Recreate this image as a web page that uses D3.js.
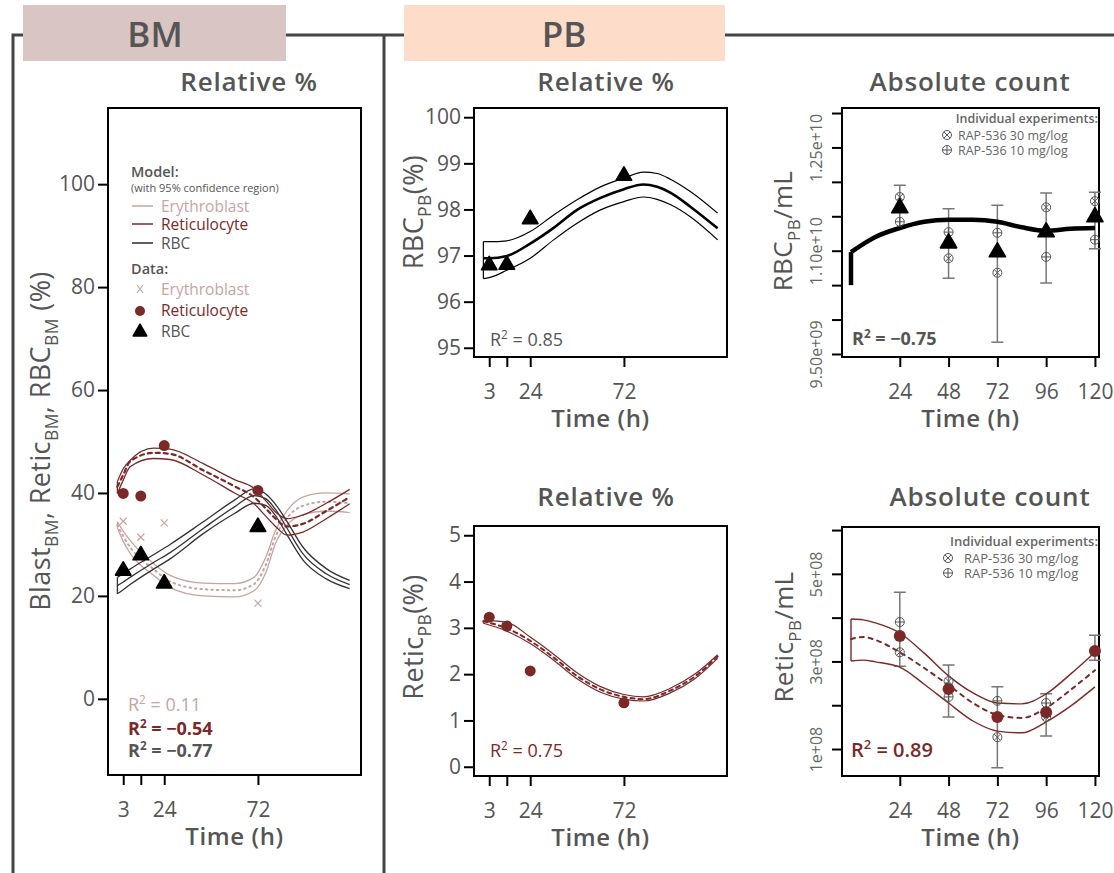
<!DOCTYPE html>
<html><head><meta charset="utf-8">
<script src="https://cdn.jsdelivr.net/npm/d3@7"></script>
<style>
body{margin:0;background:#fff}
svg{font-family:"Open Sans",sans-serif}
</style></head><body>
<svg width="1114" height="873"></svg>
<script>
// ---------- data ----------
// BM, relative %
var bmTimes   = [3, 12, 24, 72];
var bmEryData = [34.5, 31.4, 34.2, 18.6];
var bmRetData = [39.9, 39.4, 49.2, 40.5];
var bmRbcData = [24.9, 27.9, 22.4, 33.4];

var bmModelT  = [0, 3, 6.5, 18.5, 27, 44, 60, 70, 76, 81, 87, 95, 107, 119];
var bmEryMid  = [33.8, 31.6, 29.5, 25.2, 22.8, 21.3, 21.1, 22.3, 26.0, 31.5, 35.2, 37.5, 38.3, 38.0];
var bmEryHi   = [34.4, 32.6, 30.8, 26.3, 24.0, 22.5, 22.4, 23.6, 27.5, 32.7, 36.6, 39.2, 40.0, 39.8];
var bmEryLo   = [33.2, 30.6, 28.3, 24.0, 21.6, 20.0, 19.8, 21.0, 24.5, 30.2, 33.8, 35.8, 36.5, 36.2];
var bmRetMid  = [41.2, 43.5, 46.1, 47.8, 47.6, 44.4, 41.3, 39.2, 37.0, 35.0, 33.5, 34.0, 36.5, 39.2];
var bmRetHi   = [42.2, 44.7, 46.3, 48.7, 48.5, 45.7, 42.6, 40.9, 38.5, 36.3, 35.0, 35.7, 38.0, 40.7];
var bmRetLo   = [39.9, 42.5, 45.1, 46.7, 46.5, 43.5, 40.0, 37.9, 35.5, 33.5, 31.8, 32.4, 35.0, 37.9];
var bmRbcMid  = [22.0, 22.7, 23.6, 26.5, 28.4, 33.1, 37.3, 39.5, 38.9, 36.8, 33.1, 28.2, 24.3, 22.2];
var bmRbcHi   = [23.6, 24.3, 25.2, 28.0, 30.0, 34.4, 38.6, 40.8, 39.8, 37.8, 34.4, 29.5, 25.3, 23.0];
var bmRbcLo   = [20.4, 21.2, 22.2, 25.2, 27.2, 32.1, 36.0, 38.0, 37.6, 35.6, 31.8, 27.0, 23.3, 21.4];

// PB, relative %
var pbTimes    = [3, 12, 24, 72];
var pbRbcData  = [96.79, 96.80, 97.79, 98.73];
var pbRetData  = [3.23, 3.04, 2.07, 1.38];

var pbRbcT     = [0, 3, 12, 24, 36, 48, 60, 72, 82, 89, 96, 106, 120];
var pbRbcMid   = [96.94, 96.94, 96.99, 97.26, 97.60, 97.99, 98.25, 98.44, 98.54, 98.49, 98.36, 98.06, 97.59];
var pbRbcHi    = [97.30, 97.30, 97.32, 97.52, 97.88, 98.21, 98.49, 98.68, 98.81, 98.78, 98.65, 98.39, 97.92];
var pbRbcLo    = [96.50, 96.52, 96.68, 96.94, 97.34, 97.70, 97.99, 98.17, 98.27, 98.22, 98.10, 97.84, 97.34];

var pbRetT     = [0, 12, 24, 36, 48, 60, 72, 82, 96, 108, 120];
var pbRetMid   = [3.14, 2.99, 2.72, 2.36, 1.96, 1.67, 1.51, 1.46, 1.65, 1.94, 2.38];
var pbRetHi    = [3.16, 3.12, 2.80, 2.43, 2.03, 1.73, 1.56, 1.51, 1.70, 1.99, 2.42];
var pbRetLo    = [3.10, 2.93, 2.66, 2.30, 1.90, 1.61, 1.46, 1.42, 1.60, 1.89, 2.34];

// PB, absolute count
var absTimes      = [24, 48, 72, 96, 120];
var absRbcMean    = [1.162e10, 1.111e10, 1.098e10, 1.127e10, 1.149e10];
var absRbc30      = [1.178e10, 1.089e10, 1.068e10, 1.163e10, 1.172e10];
var absRbc10      = [1.142e10, 1.127e10, 1.126e10, 1.091e10, 1.116e10];
var absRbcErrHi   = [1.195e10, 1.161e10, 1.166e10, 1.184e10, 1.185e10];
var absRbcErrLo   = [1.133e10, 1.060e10, 0.967e10, 1.053e10, 1.103e10];
var absRbcStart   = 1.050e10;
var absRbcT       = [0, 12, 24, 36, 48, 60, 72, 84, 96, 108, 120];
var absRbcModel   = [1.098e10, 1.120e10, 1.133e10, 1.142e10, 1.145e10, 1.145e10, 1.142e10, 1.134e10, 1.129e10, 1.132e10, 1.133e10];

var absRetMean    = [3.58e8, 2.37e8, 1.73e8, 1.84e8, 3.24e8];
var absRet30      = [3.21e8, 2.55e8, 1.27e8, 1.73e8, null];
var absRet10      = [3.90e8, 2.19e8, 2.10e8, 2.05e8, null];
var absRetErrHi   = [4.58e8, 2.92e8, 2.42e8, 2.26e8, 3.60e8];
var absRetErrLo   = [2.89e8, 1.73e8, 0.57e8, 1.30e8, 3.03e8];
var absRetT       = [0, 6, 12, 24, 36, 48, 60, 72, 84, 96, 108, 120];
var absRetMid     = [3.51e8, 3.56e8, 3.49e8, 3.21e8, 2.85e8, 2.46e8, 2.05e8, 1.78e8, 1.71e8, 1.94e8, 2.35e8, 2.80e8];
var absRetHi      = [3.97e8, 3.95e8, 3.88e8, 3.65e8, 3.19e8, 2.67e8, 2.28e8, 2.05e8, 2.03e8, 2.26e8, 2.71e8, 3.21e8];
var absRetLo      = [3.01e8, 3.03e8, 2.99e8, 2.87e8, 2.48e8, 2.05e8, 1.64e8, 1.41e8, 1.37e8, 1.62e8, 1.98e8, 2.42e8];

// ticks
var relXTicks = [3, 12, 24, 72];
var relXTickLabels = ["3", "", "24", "72"];
var absXTicks = [24, 48, 72, 96, 120];
var bmYTicks = [0, 20, 40, 60, 80, 100];
var pbRbcYTicks = [95, 96, 97, 98, 99, 100];
var pbRetYTicks = [0, 1, 2, 3, 4, 5];
var absRbcYTicks = [9.5e9, 1.0e10, 1.05e10, 1.1e10, 1.15e10, 1.2e10, 1.25e10, 1.3e10];
var absRbcYLabels = ["9.50e+09", "", "", "1.10e+10", "", "", "1.25e+10", ""];
var absRetYTicks = [1e8, 2e8, 3e8, 4e8, 5e8, 6e8];
var absRetYLabels = ["1e+08", "", "3e+08", "", "5e+08", ""];

// ---------- drawing ----------
var cEry = "#c9a3a3", cRet = "#7b2828", cRbc = "#2a2a2a", cText = "#555";
var svg = d3.select("svg");

// frame and headers
svg.append("path")
	.attr("d", "M13,873V35H1114M384,35V873")
	.attr("fill", "none").attr("stroke", "#444").attr("stroke-width", 3);
svg.append("rect").attr("x", 23).attr("y", 5).attr("width", 263).attr("height", 56).attr("fill", "#d9c5c4");
svg.append("rect").attr("x", 404).attr("y", 5).attr("width", 321).attr("height", 56).attr("fill", "#fddcc9");
svg.append("text").attr("x", 155).attr("y", 47).attr("text-anchor", "middle")
	.style("font-size", "35px").style("font-weight", 600).attr("fill", cText).text("BM");
svg.append("text").attr("x", 564).attr("y", 47).attr("text-anchor", "middle")
	.style("font-size", "35px").style("font-weight", 600).attr("fill", cText).text("PB");

// text with sub/superscripts: parts = [[str, "sub"|"sup"|null], ...]
function rich(sel, parts, size) {
	var shift = 0;
	parts.forEach(function(p){
		var t = sel.append("tspan").text(p[0]);
		var want = p[1] == "sub" ? size * 0.3 : (p[1] == "sup" ? -size * 0.4 : 0);
		t.attr("dy", want - shift);
		shift = want;
		if (p[1]) t.style("font-size", (size * 0.65) + "px");
	});
	return sel;
}

function panel(o) {
	var g = svg.append("g");
	var x = d3.scaleLinear().domain(o.xDomain).range([o.box[0], o.box[2]]);
	var y = d3.scaleLinear().domain(o.yDomain).range([o.box[3], o.box[1]]);

	var xa = g.append("g").attr("transform", "translate(0," + o.box[3] + ")")
		.call(d3.axisBottom(x).tickValues(o.xTicks).tickSize(10).tickPadding(17)
			.tickFormat(function(d, i){ return o.xLabels ? o.xLabels[i] : d; }));
	var ya = g.append("g").attr("transform", "translate(" + o.box[0] + ",0)")
		.call(d3.axisLeft(y).tickValues(o.yTicks).tickSize(10).tickPadding(3)
			.tickFormat(function(d, i){ return o.yLabels ? o.yLabels[i] : d; }));
	[xa, ya].forEach(function(a){
		a.select(".domain").remove();
		a.selectAll("line").attr("stroke", "#000").attr("stroke-width", 2);
		a.selectAll("text").attr("fill", cText).style("font-family", "Open Sans")
			.style("font-size", "21px").style("font-weight", 500);
	});
	if (o.rotY) {
		ya.selectAll("text").attr("x", null).attr("dy", 0).attr("text-anchor", "middle")
			.attr("transform", "translate(-20,0) rotate(-90)").style("font-size", "16px")
			.style("font-weight", 400).attr("fill", "#666");
	}
	g.append("rect").attr("x", o.box[0]).attr("y", o.box[1])
		.attr("width", o.box[2] - o.box[0]).attr("height", o.box[3] - o.box[1])
		.attr("fill", "none").attr("stroke", "#000").attr("stroke-width", 2);

	// titles
	g.append("text").attr("x", o.titleX).attr("y", o.titleY).attr("text-anchor", "middle")
		.attr("fill", cText).style("font-size", "26px").style("font-weight", 600)
		.style("letter-spacing", "0.8px").text(o.title);
	g.append("text").attr("x", (o.box[0] + o.box[2]) / 2).attr("y", o.box[3] + 70)
		.attr("text-anchor", "middle").attr("fill", cText).style("font-size", "24px")
		.style("font-weight", 600).style("letter-spacing", "0.6px").text("Time (h)");
	rich(g.append("text").attr("text-anchor", "middle").attr("fill", cText)
		.attr("transform", "translate(" + o.yTitleX + "," + o.yTitleY + ") rotate(-90)")
		.style("font-size", o.yTitleSize + "px").style("font-weight", 500)
		.style("letter-spacing", "0.4px"), o.yTitle, o.yTitleSize);

	return {g: g, x: x, y: y};
}

function curve(p, ts, vs, color, w, dash) {
	var line = d3.line().x(function(d){ return p.x(d[0]); }).y(function(d){ return p.y(d[1]); })
		.curve(d3.curveMonotoneX);
	p.g.append("path").datum(d3.zip(ts, vs)).attr("d", line)
		.attr("fill", "none").attr("stroke", color).attr("stroke-width", w)
		.attr("stroke-dasharray", dash || null).attr("stroke-linecap", dash ? "round" : "butt");
}
function band(p, ts, hi, lo, color, w) {
	curve(p, ts, hi, color, w);
	curve(p, ts, lo, color, w);
	p.g.append("line").attr("x1", p.x(ts[0])).attr("x2", p.x(ts[0]))
		.attr("y1", p.y(hi[0])).attr("y2", p.y(lo[0])).attr("stroke", color).attr("stroke-width", w);
}
function triangles(p, ts, vs, size) {
	p.g.selectAll(null).data(d3.zip(ts, vs)).enter().append("path")
		.attr("d", d3.symbol(d3.symbolTriangle, size || 100))
		.attr("transform", function(d){ return "translate(" + p.x(d[0]) + "," + p.y(d[1]) + ")"; })
		.attr("fill", "#000").attr("stroke", "#000").attr("stroke-width", 1.8).attr("stroke-linejoin", "round");
}
function dots(p, ts, vs, color, r) {
	p.g.selectAll(null).data(d3.zip(ts, vs)).enter().append("circle")
		.attr("cx", function(d){ return p.x(d[0]); }).attr("cy", function(d){ return p.y(d[1]); })
		.attr("r", r || 5.5).attr("fill", color);
}
function crosses(p, ts, vs, color) {
	p.g.selectAll(null).data(d3.zip(ts, vs)).enter().append("path")
		.attr("d", "M-3.5,-3.5L3.5,3.5M-3.5,3.5L3.5,-3.5")
		.attr("transform", function(d){ return "translate(" + p.x(d[0]) + "," + p.y(d[1]) + ")"; })
		.attr("stroke", color).attr("stroke-width", 1.2);
}
function circMark(g, cx, cy, kind) {
	g.append("circle").attr("cx", cx).attr("cy", cy).attr("r", 4.5)
		.attr("fill", "none").attr("stroke", "#555").attr("stroke-width", 1);
	var d = kind == "x" ? "M-3.2,-3.2L3.2,3.2M-3.2,3.2L3.2,-3.2" : "M-4.5,0H4.5M0,-4.5V4.5";
	g.append("path").attr("d", d).attr("transform", "translate(" + cx + "," + cy + ")")
		.attr("stroke", "#555").attr("stroke-width", 1);
}
function individuals(p, ts, vs, kind) {
	ts.forEach(function(t, i){ if (vs[i] != null) circMark(p.g, p.x(t), p.y(vs[i]), kind); });
}
function errBars(p, ts, hi, lo) {
	ts.forEach(function(t, i){
		var cx = p.x(t);
		p.g.append("path").attr("d", "M" + cx + "," + p.y(hi[i]) + "V" + p.y(lo[i]) +
				"M" + (cx - 6) + "," + p.y(hi[i]) + "H" + (cx + 6) +
				"M" + (cx - 6) + "," + p.y(lo[i]) + "H" + (cx + 6))
			.attr("fill", "none").attr("stroke", "#777").attr("stroke-width", 1.5);
	});
}
function label(g, x, y, parts, size, color, weight, anchor) {
	return rich(g.append("text").attr("x", x).attr("y", y).attr("fill", color)
		.attr("text-anchor", anchor || "start")
		.style("font-size", size + "px").style("font-weight", weight || 400), parts, size);
}

// ---- BM relative ----
var bm = panel({box: [108, 108, 361, 775], xDomain: [-4.8, 124.8], yDomain: [-14.8, 114.8],
	xTicks: relXTicks, xLabels: relXTickLabels, yTicks: bmYTicks,
	title: "Relative %", titleX: 249, titleY: 91,
	yTitle: [["Blast"], ["BM", "sub"], [", Retic"], ["BM", "sub"], [", RBC"], ["BM", "sub"], [" (%)"]],
	yTitleX: 50, yTitleY: 441, yTitleSize: 27});
band(bm, bmModelT, bmEryHi, bmEryLo, cEry, 1.3);
curve(bm, bmModelT, bmEryMid, cEry, 2, "1.5,4");
band(bm, bmModelT, bmRbcHi, bmRbcLo, "#333", 1.3);
curve(bm, bmModelT, bmRbcMid, "#333", 1.3);
band(bm, bmModelT, bmRetHi, bmRetLo, cRet, 1.3);
curve(bm, bmModelT, bmRetMid, cRet, 2.2, "4,4");
crosses(bm, bmTimes, bmEryData, cEry);
dots(bm, bmTimes, bmRetData, cRet);
triangles(bm, bmTimes, bmRbcData);

// BM legend
label(bm.g, 131, 177, [["Model:"]], 14.5, cText, 600);
label(bm.g, 131, 192, [["(with 95% confidence region)"]], 11, cText, 500);
[["Erythroblast", cEry, 206], ["Reticulocyte", cRet, 224], ["RBC", cRbc, 243]].forEach(function(r){
	bm.g.append("line").attr("x1", 132).attr("x2", 153).attr("y1", r[2]).attr("y2", r[2])
		.attr("stroke", r[1]).attr("stroke-width", 1.5);
	label(bm.g, 161, r[2] + 6, [[r[0]]], 15.5, r[1] == cRbc ? cText : r[1], 500);
});
label(bm.g, 131, 274, [["Data:"]], 14.5, cText, 600);
bm.g.append("path").attr("d", "M137,285L143,293M137,293L143,285").attr("stroke", cEry).attr("stroke-width", 1.2);
label(bm.g, 161, 295, [["Erythroblast"]], 15.5, cEry, 500);
bm.g.append("circle").attr("cx", 140).attr("cy", 311).attr("r", 5).attr("fill", cRet);
label(bm.g, 161, 316, [["Reticulocyte"]], 15.5, cRet, 500);
bm.g.append("path").attr("d", d3.symbol(d3.symbolTriangle, 80)).attr("transform", "translate(140,332)")
	.attr("fill", "#000").attr("stroke", "#000").attr("stroke-width", 1.5).attr("stroke-linejoin", "round");
label(bm.g, 161, 337, [["RBC"]], 15.5, cText, 500);

label(bm.g, 128, 711, [["R"], ["2", "sup"], [" = 0.11"]], 18, cEry, 400);
label(bm.g, 128, 735, [["R"], ["2", "sup"], [" = \u22120.54"]], 18, cRet, 700);
label(bm.g, 128, 757, [["R"], ["2", "sup"], [" = \u22120.77"]], 18, cText, 700);

// ---- PB relative, RBC ----
var pr = panel({box: [474, 108, 727, 357], xDomain: [-4.8, 124.8], yDomain: [94.8, 100.2],
	xTicks: relXTicks, xLabels: relXTickLabels, yTicks: pbRbcYTicks,
	title: "Relative %", titleX: 606, titleY: 91,
	yTitle: [["RBC"], ["PB", "sub"], ["(%)"]], yTitleX: 423, yTitleY: 212, yTitleSize: 27});
band(pr, pbRbcT, pbRbcHi, pbRbcLo, "#000", 1.2);
curve(pr, pbRbcT, pbRbcMid, "#000", 2.6);
triangles(pr, pbTimes, pbRbcData);
label(pr.g, 490, 346, [["R"], ["2", "sup"], [" = 0.85"]], 18, cText, 500);

// ---- PB relative, Retic ----
var pt = panel({box: [474, 526, 727, 776], xDomain: [-4.8, 124.8], yDomain: [-0.2, 5.2],
	xTicks: relXTicks, xLabels: relXTickLabels, yTicks: pbRetYTicks,
	title: "Relative %", titleX: 606, titleY: 506,
	yTitle: [["Retic"], ["PB", "sub"], ["(%)"]], yTitleX: 423, yTitleY: 637, yTitleSize: 27});
band(pt, pbRetT, pbRetHi, pbRetLo, cRet, 1.2);
curve(pt, pbRetT, pbRetMid, cRet, 2, "4,4");
dots(pt, pbTimes, pbRetData, cRet);
label(pt.g, 490, 757, [["R"], ["2", "sup"], [" = 0.75"]], 18, cRet, 500);

// ---- PB absolute, RBC ----
var ar = panel({box: [842, 108, 1099, 357], xDomain: [-4.43, 122], yDomain: [9.456e9, 1.3073e10],
	xTicks: absXTicks, yTicks: absRbcYTicks, yLabels: absRbcYLabels, rotY: true,
	title: "Absolute count", titleX: 970, titleY: 91,
	yTitle: [["RBC"], ["PB", "sub"], ["/mL"]], yTitleX: 792, yTitleY: 231, yTitleSize: 26});
errBars(ar, absTimes, absRbcErrHi, absRbcErrLo);
ar.g.append("line").attr("x1", ar.x(0)).attr("x2", ar.x(0)).attr("y1", ar.y(absRbcStart)).attr("y2", ar.y(absRbcModel[0]))
	.attr("stroke", "#000").attr("stroke-width", 4.5);
curve(ar, absRbcT, absRbcModel, "#000", 4.5);
individuals(ar, absTimes, absRbc30, "x");
individuals(ar, absTimes, absRbc10, "+");
triangles(ar, absTimes, absRbcMean, 110);
label(ar.g, 852, 345, [["R"], ["2", "sup"], [" = \u22120.75"]], 18, cText, 700);
label(ar.g, 1098, 123, [["Individual experiments:"]], 12.5, "#666", 600, "end");
circMark(ar.g, 947, 135, "x"); label(ar.g, 958, 140, [["RAP-536 30 mg/log"]], 12.5, "#666");
circMark(ar.g, 947, 150, "+"); label(ar.g, 958, 155, [["RAP-536 10 mg/log"]], 12.5, "#666");

// ---- PB absolute, Retic ----
var at = panel({box: [842, 527, 1099, 776], xDomain: [-4.43, 122], yDomain: [0.384e8, 6.07e8],
	xTicks: absXTicks, yTicks: absRetYTicks, yLabels: absRetYLabels, rotY: true,
	title: "Absolute count", titleX: 990, titleY: 506,
	yTitle: [["Retic"], ["PB", "sub"], ["/mL"]], yTitleX: 793, yTitleY: 637, yTitleSize: 26});
errBars(at, absTimes, absRetErrHi, absRetErrLo);
band(at, absRetT, absRetHi, absRetLo, cRet, 1.4);
curve(at, absRetT, absRetMid, cRet, 2, "4,5");
individuals(at, absTimes, absRet30, "x");
individuals(at, absTimes, absRet10, "+");
dots(at, absTimes, absRetMean, cRet, 6);
label(at.g, 851, 757, [["R"], ["2", "sup"], [" = 0.89"]], 20, cRet, 600);
label(at.g, 1098, 546, [["Individual experiments:"]], 13, "#666", 600, "end");
circMark(at.g, 948, 558, "x"); label(at.g, 964, 563, [["RAP-536 30 mg/log"]], 13, "#666");
circMark(at.g, 948, 573, "+"); label(at.g, 964, 578, [["RAP-536 10 mg/log"]], 13, "#666");
</script>
</body></html>
